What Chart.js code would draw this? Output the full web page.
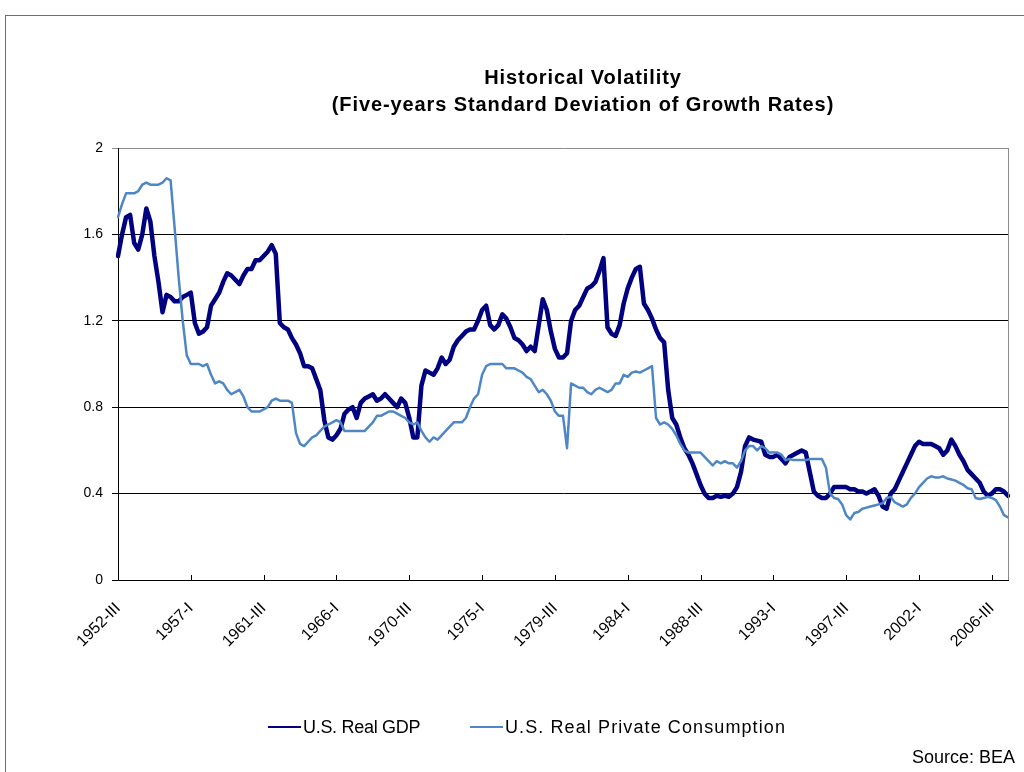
<!DOCTYPE html>
<html>
<head>
<meta charset="utf-8">
<title>Historical Volatility</title>
<script src="https://cdn.jsdelivr.net/npm/chart.js@4.4.1/dist/chart.umd.min.js"></script>
<style>
    html, body { margin: 0; padding: 0; background: #fff; overflow: hidden; }
    body { width: 1024px; height: 772px; position: relative; font-family: "Liberation Sans", Arial, sans-serif; color: #000; }
    #frame { position: absolute; left: 5px; top: 15px; width: 1100px; height: 800px; border-left: 1px solid #6e6e6e; border-top: 1px solid #6e6e6e; }
    #chartBox { position: absolute; left: 0; top: 0; width: 1024px; height: 772px; }
    #title { position: absolute; left: 233px; top: 64px; width: 700px; text-align: center; font-weight: bold; font-size: 20px; line-height: 27px; letter-spacing: 0.9px; }
    .legend-item { position: absolute; top: 716px; font-size: 18px; line-height: 22px; display: flex; align-items: center; }
    .swatch { display: inline-block; width: 33px; height: 2px; margin-right: 2px; }
    #source { position: absolute; right: 9px; top: 747px; font-size: 18px; }
</style>
</head>
<body>
<div id="frame"></div>
<div id="chartBox"><canvas id="volatilityChart" width="1024" height="772"></canvas></div>
<div id="title">Historical Volatility<br>(Five-years Standard Deviation of Growth Rates)</div>
<div class="legend-item" style="left: 268px; letter-spacing: -0.3px;"><span class="swatch" style="background:#000080"></span>U.S. Real GDP</div>
<div class="legend-item" style="left: 470px; letter-spacing: 1.1px;"><span class="swatch" style="background:#4f87c4"></span>U.S. Real Private Consumption</div>
<div id="source">Source: BEA</div>

<script>
// Five-year rolling standard deviation of quarterly growth, 1952-III to 2007-III
const gdpVolatility = [
    1.50, 1.60, 1.68, 1.69, 1.56, 1.53, 1.60, 1.72, 1.66, 1.50,
    1.38, 1.24, 1.32, 1.31, 1.29, 1.29, 1.31, 1.32, 1.33, 1.19,
    1.14, 1.15, 1.17, 1.27, 1.30, 1.33, 1.38, 1.42, 1.41, 1.39,
    1.37, 1.41, 1.44, 1.44, 1.48, 1.48, 1.50, 1.52, 1.55, 1.51,
    1.19, 1.17, 1.16, 1.12, 1.09, 1.05, 0.99, 0.99, 0.98, 0.93,
    0.88, 0.74, 0.66, 0.65, 0.67, 0.70, 0.77, 0.79, 0.80, 0.75,
    0.82, 0.84, 0.85, 0.86, 0.83, 0.84, 0.86, 0.84, 0.82, 0.80,
    0.84, 0.82, 0.75, 0.66, 0.66, 0.90, 0.97, 0.96, 0.95, 0.98,
    1.03, 1.00, 1.02, 1.08, 1.11, 1.13, 1.15, 1.16, 1.16, 1.20,
    1.25, 1.27, 1.18, 1.16, 1.18, 1.23, 1.21, 1.17, 1.12, 1.11,
    1.09, 1.06, 1.08, 1.06, 1.18, 1.30, 1.25, 1.15, 1.07, 1.03,
    1.03, 1.05, 1.20, 1.25, 1.27, 1.31, 1.35, 1.36, 1.38, 1.43,
    1.49, 1.17, 1.14, 1.13, 1.18, 1.28, 1.35, 1.40, 1.44, 1.45,
    1.28, 1.25, 1.21, 1.16, 1.12, 1.10, 0.88, 0.75, 0.72, 0.66,
    0.61, 0.58, 0.54, 0.49, 0.44, 0.40, 0.38, 0.38, 0.39, 0.385,
    0.39, 0.385, 0.40, 0.43, 0.50, 0.62, 0.66, 0.65, 0.645, 0.64,
    0.58, 0.57, 0.57, 0.58, 0.56, 0.54, 0.57, 0.58, 0.59, 0.60,
    0.59, 0.50, 0.41, 0.39, 0.38, 0.38, 0.40, 0.43, 0.43, 0.43,
    0.43, 0.42, 0.42, 0.41, 0.41, 0.40, 0.41, 0.42, 0.39, 0.34,
    0.33, 0.40, 0.42, 0.46, 0.50, 0.54, 0.58, 0.62, 0.64, 0.63,
    0.63, 0.63, 0.62, 0.61, 0.58, 0.60, 0.65, 0.62, 0.58, 0.55,
    0.51, 0.49, 0.47, 0.45, 0.41, 0.39, 0.40, 0.42, 0.42, 0.41,
    0.39
];

const consumptionVolatility = [
    1.68, 1.74, 1.79, 1.79, 1.79, 1.80, 1.83, 1.84, 1.83, 1.83,
    1.83, 1.84, 1.86, 1.85, 1.63, 1.40, 1.20, 1.04, 1.00, 1.00,
    1.00, 0.99, 1.00, 0.95, 0.91, 0.92, 0.91, 0.88, 0.86, 0.87,
    0.88, 0.85, 0.80, 0.78, 0.78, 0.78, 0.79, 0.80, 0.83, 0.84,
    0.83, 0.83, 0.83, 0.82, 0.68, 0.63, 0.62, 0.64, 0.66, 0.67,
    0.69, 0.71, 0.72, 0.73, 0.74, 0.73, 0.69, 0.69, 0.69, 0.69,
    0.69, 0.69, 0.71, 0.73, 0.76, 0.76, 0.77, 0.78, 0.78, 0.77,
    0.76, 0.75, 0.73, 0.72, 0.73, 0.69, 0.66, 0.64, 0.66, 0.65,
    0.67, 0.69, 0.71, 0.73, 0.73, 0.73, 0.75, 0.80, 0.84, 0.86,
    0.95, 0.99, 1.00, 1.00, 1.00, 1.00, 0.98, 0.98, 0.98, 0.97,
    0.96, 0.94, 0.93, 0.90, 0.87, 0.88, 0.86, 0.83, 0.78, 0.76,
    0.76, 0.61, 0.91, 0.90, 0.89, 0.89, 0.87, 0.86, 0.88, 0.89,
    0.88, 0.87, 0.88, 0.91, 0.91, 0.95, 0.94, 0.96, 0.965, 0.96,
    0.97, 0.98, 0.99, 0.75, 0.72, 0.73, 0.72, 0.70, 0.67, 0.63,
    0.60, 0.59, 0.59, 0.59, 0.59, 0.57, 0.55, 0.53, 0.55, 0.54,
    0.55, 0.54, 0.54, 0.52, 0.55, 0.60, 0.62, 0.62, 0.60, 0.62,
    0.61, 0.59, 0.59, 0.59, 0.58, 0.555, 0.56, 0.555, 0.555, 0.555,
    0.555, 0.56, 0.56, 0.56, 0.56, 0.52, 0.40, 0.38, 0.375, 0.35,
    0.30, 0.28, 0.31, 0.315, 0.33, 0.335, 0.34, 0.345, 0.35, 0.355,
    0.38, 0.385, 0.36, 0.35, 0.34, 0.35, 0.38, 0.40, 0.43, 0.45,
    0.47, 0.48, 0.475, 0.475, 0.48, 0.47, 0.465, 0.46, 0.45, 0.44,
    0.425, 0.42, 0.38, 0.375, 0.38, 0.385, 0.38, 0.37, 0.34, 0.30,
    0.29
];

// Only these quarters get a label and a tick mark on the x axis
const shownQuarters = [
    '1952-III', '1957-I', '1961-III', '1966-I', '1970-III', '1975-I', '1979-III',
    '1984-I', '1988-III', '1993-I', '1997-III', '2002-I', '2006-III'
];

const yTicks = [0, 0.4, 0.8, 1.2, 1.6, 2];

// Quarter names, starting from 1952-III
const romans = ['I', 'II', 'III', 'IV'];
const quarterLabels = gdpVolatility.map((_, i) => {
    const q = i + 2;
    return (1952 + Math.floor(q / 4)) + '-' + romans[q % 4];
});

const FONT = '"Liberation Sans", Arial, sans-serif';

// Gray plot border on the right and short tick marks inside the x axis
const plotFrame = {
    id: 'plotFrame',
    afterDraw(chart) {
        const { ctx, chartArea, scales } = chart;
        ctx.save();
        ctx.strokeStyle = '#8c8c8c';
        ctx.lineWidth = 1;
        ctx.beginPath();
        ctx.moveTo(Math.round(chartArea.right) + 0.5, chartArea.top);
        ctx.lineTo(Math.round(chartArea.right) + 0.5, chartArea.bottom);
        ctx.stroke();

        ctx.strokeStyle = '#000';
        ctx.beginPath();
        quarterLabels.forEach((label, i) => {
            if (!shownQuarters.includes(label)) return;
            const x = Math.round(scales.x.getPixelForValue(i)) + 0.5;
            ctx.moveTo(x, chartArea.bottom);
            ctx.lineTo(x, chartArea.bottom - 5);
        });
        ctx.stroke();
        ctx.restore();
    }
};

const ctx = document.getElementById('volatilityChart').getContext('2d');
const volatilityChart = new Chart(ctx, {
    type: 'line',
    data: {
        labels: quarterLabels,
        datasets: [
            {
                label: 'U.S. Real GDP',
                data: gdpVolatility,
                borderColor: '#000080',
                borderWidth: 4.5,
                order: 1
            },
            {
                label: 'U.S. Real Private Consumption',
                data: consumptionVolatility,
                borderColor: '#4f87c4',
                borderWidth: 2.5,
                order: 0
            }
        ]
    },
    options: {
        responsive: false,
        animation: false,
        layout: { padding: { left: 0, right: 16, top: 148, bottom: 0 } },
        elements: {
            point: { radius: 0 },
            line: { tension: 0, borderJoinStyle: 'round', borderCapStyle: 'round', fill: false }
        },
        plugins: {
            legend: { display: false },
            title: { display: false },
            tooltip: { enabled: false }
        },
        scales: {
            x: {
                type: 'category',
                offset: false,
                afterFit: (scale) => { scale.height = 192; },
                grid: { display: false },
                border: { display: true, color: '#000', width: 1 },
                ticks: {
                    autoSkip: false,
                    maxRotation: 45,
                    minRotation: 45,
                    padding: 11,
                    color: '#000',
                    font: { family: FONT, size: 16 },
                    callback: function (value) {
                        const label = this.getLabelForValue(value);
                        return shownQuarters.includes(label) ? label : null;
                    }
                }
            },
            y: {
                min: 0,
                max: 2,
                afterFit: (scale) => { scale.width = 118; },
                afterBuildTicks: (scale) => { scale.ticks = yTicks.map(v => ({ value: v })); },
                grid: {
                    color: (c) => (c.tick && c.tick.value === 2 ? '#8c8c8c' : '#000'),
                    lineWidth: 1,
                    tickLength: 6
                },
                border: { display: true, color: '#000', width: 1 },
                ticks: {
                    padding: 9,
                    color: '#000',
                    font: { family: FONT, size: 14 },
                    callback: (v) => String(Number(v.toFixed(1)))
                }
            }
        }
    },
    plugins: [plotFrame]
});
</script>
</body>
</html>
